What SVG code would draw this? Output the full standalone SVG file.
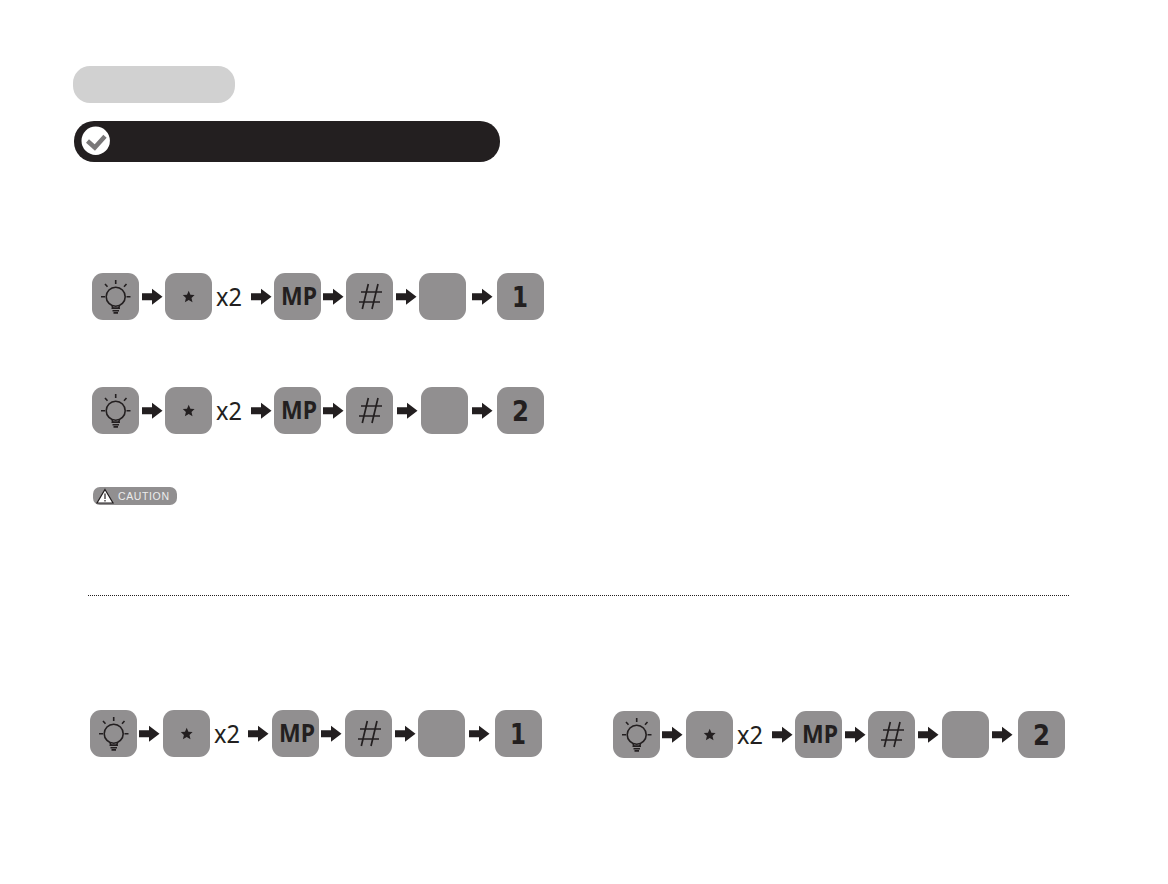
<svg xmlns="http://www.w3.org/2000/svg" width="1168" height="884" viewBox="0 0 1168 884">
<style>
.k{fill:#918f90}
.ink{fill:#231f20}
.t{fill:#231f20;text-anchor:middle}
.mp{font-family:"Noto Sans","Open Sans",sans-serif;font-weight:700;font-size:25px}
.n{font-family:"DejaVu Sans",sans-serif;font-weight:700;font-size:28px}
.x{font-family:"Noto Sans","Open Sans",sans-serif;font-size:25.500px;text-anchor:start}
.ln{stroke:#231f20;fill:none;stroke-width:1.600}
</style>
<defs>
<rect id="key" class="k" width="47" height="47" rx="11"/>
<path id="arr" class="ink" d="M0-3.500H10V-8L20.500 0 10 8V3.500H0Z"/>
<g id="bulb" class="ln">
<circle cx="23.700" cy="23.700" r="9.500"/>
<path d="M20 33L21 35H26.500L27.500 33M19.500 35.300H28M20.500 37.700H27M21.500 39.900H26M23.700 7V11M13 11L15.500 13.800M34.500 11L32 13.800M9 23.700H13M34.500 23.700H38.500"/>
</g>
<path id="star" class="ink" d="M23.700 17.800L25.400 21.700L29.600 22L26.500 24.900L27.500 29.200L23.700 27L19.900 29.200L20.900 24.900L17.800 22L22 21.700Z"/>
<path id="hash" d="M22.300 11L16.300 36M32 11L26 36M15 19H36M13 29H34" stroke="#231f20" stroke-width="1.700" fill="none"/>
</defs>
<g id="title-pill"><rect x="73" y="66" width="162" height="37" rx="17" fill="#d1d1d1"/></g>
<g id="heading-bar">
<rect x="74" y="121" width="426" height="41" rx="20" fill="#231f20"/>
<circle cx="95.700" cy="140.800" r="14.200" fill="#fff"/>
<path d="M87.500 141L94.800 147.500L105 136.300" fill="none" stroke="#7a7879" stroke-width="4.500"/>
</g>

<g id="row1" transform="translate(92 273)">
<g id="r1-bulb"><use href="#key"/><use href="#bulb"/></g>
<g id="r1-star" transform="translate(73 0)"><use href="#key"/><use href="#star"/></g>
<text id="r1-x2" class="t x" x="124" y="32.500" textLength="26" lengthAdjust="spacingAndGlyphs">x2</text>
<g id="r1-mp" transform="translate(182 0)"><use href="#key"/><text class="t mp" x="25" y="32" textLength="36" lengthAdjust="spacingAndGlyphs">MP</text></g>
<g id="r1-hash" transform="translate(254 0)"><use href="#key"/><use href="#hash"/></g>
<g id="r1-blank" transform="translate(327 0)"><use href="#key"/></g>
<g id="r1-num" transform="translate(405 0)"><use href="#key"/><text class="t n" x="23" y="34" textLength="16" lengthAdjust="spacingAndGlyphs">1</text></g>
<g id="r1-arrows"><use href="#arr" x="50" y="23.700"/><use href="#arr" x="159" y="23.700"/><use href="#arr" x="231" y="23.700"/><use href="#arr" x="304" y="23.700"/><use href="#arr" x="380" y="23.700"/></g>
</g>

<g id="row2" transform="translate(92 387)">
<g id="r2-bulb"><use href="#key"/><use href="#bulb"/></g>
<g id="r2-star" transform="translate(73 0)"><use href="#key"/><use href="#star"/></g>
<text id="r2-x2" class="t x" x="124" y="32.500" textLength="26" lengthAdjust="spacingAndGlyphs">x2</text>
<g id="r2-mp" transform="translate(182 0)"><use href="#key"/><text class="t mp" x="25" y="32" textLength="36" lengthAdjust="spacingAndGlyphs">MP</text></g>
<g id="r2-hash" transform="translate(254 0)"><use href="#key"/><use href="#hash"/></g>
<g id="r2-blank" transform="translate(329 0)"><use href="#key"/></g>
<g id="r2-num" transform="translate(405 0)"><use href="#key"/><text class="t n" x="23.500" y="34" textLength="17" lengthAdjust="spacingAndGlyphs">2</text></g>
<g id="r2-arrows"><use href="#arr" x="50" y="23.700"/><use href="#arr" x="159" y="23.700"/><use href="#arr" x="231" y="23.700"/><use href="#arr" x="305" y="23.700"/><use href="#arr" x="380" y="23.700"/></g>
</g>

<g id="caution">
<rect x="93" y="487" width="84" height="18" rx="7" fill="#918f90"/>
<path d="M105 489.500L113 503H97Z" fill="#fff" stroke="#231f20" stroke-width="1.200"/>
<path d="M105 493.500V499M105 500V501.500" stroke="#231f20" stroke-width="1.200"/>
<text x="118" y="500" font-family="'Liberation Sans',sans-serif" font-size="10.500" fill="#eceded" textLength="51">CAUTION</text>
</g>

<line id="divider" x1="88" y1="595.500" x2="1069" y2="595.500" stroke="#231f20" stroke-width="1" stroke-dasharray="1 1"/>

<g id="row3" transform="translate(90 710)">
<g id="r3-bulb"><use href="#key"/><use href="#bulb"/></g>
<g id="r3-star" transform="translate(73 0)"><use href="#key"/><use href="#star"/></g>
<text id="r3-x2" class="t x" x="124" y="32.500" textLength="26" lengthAdjust="spacingAndGlyphs">x2</text>
<g id="r3-mp" transform="translate(182 0)"><use href="#key"/><text class="t mp" x="25" y="32" textLength="36" lengthAdjust="spacingAndGlyphs">MP</text></g>
<g id="r3-hash" transform="translate(255 0)"><use href="#key"/><use href="#hash"/></g>
<g id="r3-blank" transform="translate(328 0)"><use href="#key"/></g>
<g id="r3-num" transform="translate(405 0)"><use href="#key"/><text class="t n" x="23" y="34" textLength="16" lengthAdjust="spacingAndGlyphs">1</text></g>
<g id="r3-arrows"><use href="#arr" x="49" y="23.700"/><use href="#arr" x="158" y="23.700"/><use href="#arr" x="231" y="23.700"/><use href="#arr" x="305" y="23.700"/><use href="#arr" x="379" y="23.700"/></g>
</g>

<g id="row4" transform="translate(613 711)">
<g id="r4-bulb"><use href="#key"/><use href="#bulb"/></g>
<g id="r4-star" transform="translate(73 0)"><use href="#key"/><use href="#star"/></g>
<text id="r4-x2" class="t x" x="124" y="32.500" textLength="26" lengthAdjust="spacingAndGlyphs">x2</text>
<g id="r4-mp" transform="translate(182 0)"><use href="#key"/><text class="t mp" x="25" y="32" textLength="36" lengthAdjust="spacingAndGlyphs">MP</text></g>
<g id="r4-hash" transform="translate(255 0)"><use href="#key"/><use href="#hash"/></g>
<g id="r4-blank" transform="translate(329 0)"><use href="#key"/></g>
<g id="r4-num" transform="translate(405 0)"><use href="#key"/><text class="t n" x="23.500" y="34" textLength="17" lengthAdjust="spacingAndGlyphs">2</text></g>
<g id="r4-arrows"><use href="#arr" x="49" y="23.700"/><use href="#arr" x="159" y="23.700"/><use href="#arr" x="232" y="23.700"/><use href="#arr" x="305" y="23.700"/><use href="#arr" x="379" y="23.700"/></g>
</g>
</svg>
